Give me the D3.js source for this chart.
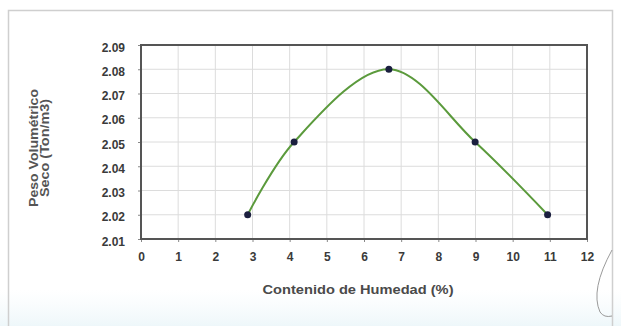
<!DOCTYPE html>
<html><head><meta charset="utf-8">
<script src="https://cdn.jsdelivr.net/npm/d3@7"></script>
<style>html,body{margin:0;padding:0;background:#fff;}svg{display:block;}</style>
</head><body>
<script>
const humedad = [2.87, 4.12, 6.67, 8.99, 10.94];
const peso = [2.02, 2.05, 2.08, 2.05, 2.02];
const xTicks = [0,1,2,3,4,5,6,7,8,9,10,11,12];
const yTicks = [2.01,2.02,2.03,2.04,2.05,2.06,2.07,2.08,2.09];
const xTitle = "Contenido de Humedad (%)";
const yTitle = ["Peso Volumétrico", "Seco (Ton/m3)"];

const W = 621, H = 326;
const m = {left:141, right:587, top:45, bottom:239};
const font = "Liberation Sans, Arial, sans-serif";
const svg = d3.select("body").append("svg").attr("width", W).attr("height", H);

const defs = svg.append("defs");
const g1 = defs.append("linearGradient").attr("id","bg").attr("x1",0).attr("x2",0).attr("y1",0).attr("y2",1);
g1.append("stop").attr("offset","0%").attr("stop-color","#f3fafc").attr("stop-opacity",0);
g1.append("stop").attr("offset","100%").attr("stop-color","#eef7fa").attr("stop-opacity",1);
svg.append("rect").attr("x",0).attr("y",290).attr("width",W).attr("height",36).attr("fill","url(#bg)");

// outer frame
svg.append("rect").attr("x",8.5).attr("y",10.5).attr("width",604).attr("height",330)
  .attr("fill","none").attr("stroke","#cfcfcf").attr("stroke-width",1.5);

const x = d3.scaleLinear().domain([0,12]).range([m.left, m.right]);
const y = d3.scaleLinear().domain([2.01,2.09]).range([m.bottom, m.top]);

// grid
svg.append("g").selectAll("line").data(xTicks).join("line")
  .attr("x1", d=>x(d)).attr("x2", d=>x(d)).attr("y1", m.top).attr("y2", m.bottom)
  .attr("stroke","#dcdcdc").attr("stroke-width",1);
svg.append("g").selectAll("line").data(yTicks).join("line")
  .attr("y1", d=>y(d)).attr("y2", d=>y(d)).attr("x1", m.left).attr("x2", m.right)
  .attr("stroke","#dcdcdc").attr("stroke-width",1);

// axes
const xAxis = svg.append("g").attr("transform",`translate(0,${m.bottom})`)
  .call(d3.axisBottom(x).tickValues(xTicks).tickSize(3).tickPadding(10).tickFormat(d3.format("d")));
const yAxis = svg.append("g").attr("transform",`translate(${m.left},0)`)
  .call(d3.axisLeft(y).tickValues(yTicks).tickSize(3).tickPadding(13).tickFormat(d3.format(".2f")));
[xAxis, yAxis].forEach(a => {
  a.select(".domain").remove();
  a.selectAll("line").attr("stroke","#888");
  a.selectAll("text").attr("font-family",font)
    .attr("font-size",12).attr("fill","#3a3a3a").attr("font-weight","bold");
});
yAxis.selectAll("text").attr("dy","0.5em");

// plot border
svg.append("rect").attr("x",m.left).attr("y",m.top).attr("width",m.right-m.left).attr("height",m.bottom-m.top)
  .attr("fill","none").attr("stroke","#555").attr("stroke-width",2);

// curve
const pts = humedad.map((h,i)=>[h, peso[i]]);
svg.append("path").datum(pts)
  .attr("d", d3.line().x(d=>x(d[0])).y(d=>y(d[1])).curve(d3.curveCatmullRom.alpha(0.5)))
  .attr("fill","none").attr("stroke","#5b9a3c").attr("stroke-width",2);

svg.append("g").selectAll("circle").data(pts).join("circle")
  .attr("cx", d=>x(d[0])).attr("cy", d=>y(d[1])).attr("r",3.5)
  .attr("fill","#1b1f3f");

// titles
svg.append("text").attr("x",358).attr("y",294).attr("text-anchor","middle")
  .attr("font-family",font).attr("font-size",13).attr("font-weight","bold").attr("fill","#4a4a4a")
  .attr("textLength",191).attr("lengthAdjust","spacingAndGlyphs")
  .text(xTitle);
const yLens = [118, 98];
yTitle.forEach((t,i)=> {
  const cx = i===0 ? 38 : 49;
  svg.append("text").attr("transform",`translate(${cx},148) rotate(-90)`).attr("text-anchor","middle")
    .attr("font-family",font).attr("font-size",12).attr("font-weight","bold").attr("fill","#555")
    .attr("x",0).attr("y",0)
    .attr("textLength",yLens[i]).attr("lengthAdjust","spacingAndGlyphs")
    .text(t);
});

// scanned stamp mark
svg.append("path").attr("d","M 612 250 Q 590 290 600 312 Q 604 318 612 316")
  .attr("fill","none").attr("stroke","#9a9a9a").attr("stroke-width",1);
</script>
</body></html>
